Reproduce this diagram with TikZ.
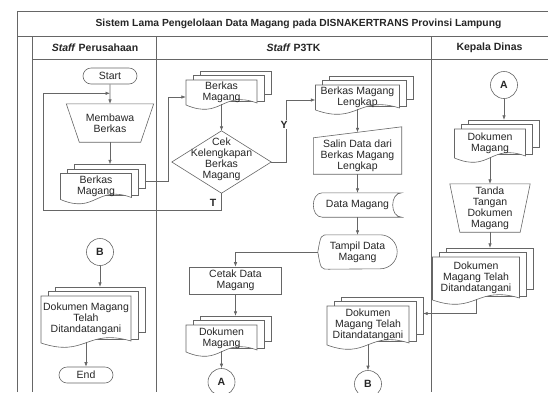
\documentclass[tikz,border=0pt]{standalone}
\usepackage{fontspec}
\setmainfont{Liberation Sans}
\usetikzlibrary{arrows.meta,shapes.misc,positioning}
\colorlet{garis}{black!60}
\newcommand{\isi}{\fontsize{10.5}{11}\selectfont}
\tikzset{
	base/.style = {font=\isi, text=black!85, align=center, inner sep=0},
	blank/.style = {base, rectangle},
	shape line/.style = {draw=garis, line width=0.6pt},
	sheet/.style = {shape line, fill=white},
	lane/.style = {draw=garis, line width=0.6pt},
	flow/.style = {draw=garis, line width=0.6pt, -{Latex[length=4.5pt,width=3.5pt]}},
	terminal/.style = {base, rounded rectangle, shape line, minimum width=54, minimum height=16},
	process/.style = {base, rectangle, shape line, minimum width=92, minimum height=27},
	connector/.style = {base, circle, shape line, minimum size=27, font=\isi\bfseries},
	heading/.style = {base, font=\fontsize{10.3}{12}\selectfont\bfseries},
	lane title/.style = {base, font=\isi\bfseries},
	answer/.style = {base, font=\isi\bfseries, fill=white, inner sep=1pt},
}
% multi document: name, centre, width, height, text
\newcommand{\dokumen}[5]{%
	\begin{scope}[shift={(#2)}]
		\pgfmathsetmacro{\lw}{#3/2}
		\pgfmathsetmacro{\lh}{#4/2}
		\draw[sheet] (-\lw+14,-\lh-9) rectangle (\lw+14,\lh-10);
		\draw[sheet] (-\lw+7,-\lh-4.5) rectangle (\lw+7,\lh-3);
		\draw[sheet] (-\lw,-\lh) -- (\lw,-\lh) -- (\lw,\lh-1)
			.. controls (0,\lh-14) and (0,\lh+16) .. (-\lw,\lh+1) -- cycle;
		\node[blank, minimum width=#3, minimum height=#4] (#1) at (0,0) {#5};
	\end{scope}}

\begin{document}
\begin{tikzpicture}[x=1pt, y=-1pt]
\useasboundingbox (0,0) rectangle (548,392);

% swimlanes
\draw[lane] (17,392) -- (17,11) -- (548,11);
\draw[lane] (17,36) -- (548,36);
\draw[lane] (32,59) -- (548,59);
\foreach \x in {32,156,431}
	\draw[lane] (\x,36) -- (\x,392);
\node[heading] (judul) at (298.5,23.5) {Sistem Lama Pengelolaan Data Magang pada DISNAKERTRANS Provinsi Lampung};
\node[lane title] (perusahaan) at (95,47.5) {\textit{Staff} Perusahaan};
\node[lane title] (p3tk) at (293.5,47.5) {\textit{Staff} P3TK};
\node[lane title] (kepala) at (489.5,47.5) {Kepala Dinas};

% Staff Perusahaan
\node[terminal] (start) at (110,76) {Start};
\node[blank, minimum width=87, minimum height=38] (membawa) at (110,123) {Membawa\\Berkas};
\draw[shape line] (membawa.north west) -- (membawa.north east)
	-- ([xshift=-13]membawa.south east) -- ([xshift=13]membawa.south west) -- cycle;
\dokumen{berkas1}{96,186}{71}{25}{Berkas\\Magang}
\node[connector] (bPeru) at (100,252) {B};
\dokumen{ttd3}{86,319}{90}{46}{Dokumen Magang\\Telah\\Ditandatangani}
\node[terminal] (end) at (86,375) {End};

% Staff P3TK
\dokumen{berkas2}{221.5,92}{71}{24}{Berkas\\Magang}
\node[blank, minimum width=99, minimum height=62] (cek) at (221.5,159) {Cek\\Kelengkapan\\Berkas\\Magang};
\draw[shape line] ([yshift=-3]cek.north) -- ([yshift=-3]cek.east)
	-- ([yshift=-3]cek.south) -- ([yshift=-3]cek.west) -- cycle;
\dokumen{lengkap}{357.5,97}{84}{24}{Berkas Magang\\Lengkap}
\node[blank, minimum width=88, minimum height=36] (salin) at (357.5,156) {Salin Data dari\\Berkas Magang\\Lengkap};
\draw[shape line] (salin.north west) -- ([yshift=11]salin.north east)
	-- (salin.south east) -- (salin.south west) -- cycle;
\node[blank, minimum width=88, minimum height=24] (data) at (357.5,205) {Data Magang};
\draw[shape line] ([xshift=9]data.north west) -- (data.north east)
	.. controls ([xshift=-12]data.north east) and ([xshift=-12]data.south east) .. (data.south east)
	-- ([xshift=9]data.south west)
	.. controls ([xshift=-3]data.south west) and ([xshift=-3]data.north west) .. cycle;
\node[blank, minimum width=79, minimum height=34] (tampil) at (357.5,252) {Tampil Data\\Magang};
\draw[shape line] ([xshift=11]tampil.north west) -- ([xshift=-17]tampil.north east)
	arc[start angle=90, end angle=-90, x radius=17pt, y radius=17pt]
	-- ([xshift=11]tampil.south west)
	.. controls ([xshift=3]tampil.south west) .. (tampil.west)
	.. controls ([xshift=3]tampil.north west) .. cycle;
\node[process] (cetak) at (235.5,280.5) {Cetak Data\\Magang};
\dokumen{dok1}{221.5,338}{71}{26}{Dokumen\\Magang}
\node[connector] (aP3) at (221.5,382) {A};
\dokumen{ttd2}{368,325}{82}{38}{Dokumen\\Magang Telah\\Ditandatangani}
\node[connector] (bP3) at (368,384) {B};

% Kepala Dinas
\node[connector] (aKep) at (504,85) {A};
\dokumen{dok2}{490,143}{71}{28}{Dokumen\\Magang}
\node[blank, minimum width=80, minimum height=48] (tanda) at (490,208) {Tanda\\Tangan\\Dokumen\\Magang};
\draw[shape line] (tanda.north west) -- (tanda.north east)
	-- ([xshift=-10]tanda.south east) -- ([xshift=10]tanda.south west) -- cycle;
\dokumen{ttd1}{476,278}{87}{42}{Dokumen\\Magang Telah\\Ditandatangani}

% alur
\coordinate (balik) at (43,210);
\coordinate (masuk) at ([yshift=-9]start.south);
\draw[flow] (start) -- (membawa);
\draw[flow] (membawa) -- ([xshift=14,yshift=9]berkas1.north);
\draw[flow] ([xshift=13,yshift=5]berkas1.east) -- ++(24,0) |- ([yshift=-5]berkas2.west);
\draw[flow] (berkas2) -- ([yshift=-3]cek.north);
\draw[flow] ([yshift=-3]cek.east) -- ++(15,0) |- node[answer, pos=0.3, xshift=-2pt] {Y} ([yshift=-3]lengkap.west);
\draw[flow] ([yshift=-3]cek.south) -- node[base, font=\isi\bfseries, pos=0.6, left=5pt] {T} (cek.south |- balik)
	-- (balik) |- (masuk);
\draw[flow] (lengkap) -- ([yshift=5.5]salin.north);
\draw[flow] (salin) -- (data);
\draw[flow] (data) -- (tampil);
\draw[flow] (tampil.west) -| (cetak.north);
\draw[flow] (cetak) -- ([xshift=14,yshift=9]dok1.north);
\draw[flow] (dok1) -- (aP3);
\draw[flow] (aKep) -- ([xshift=14,yshift=9]dok2.north);
\draw[flow] (dok2) -- (tanda);
\draw[flow] (tanda) -- ([xshift=14,yshift=9]ttd1.north);
\draw[flow] (ttd1.south) |- ([xshift=14,yshift=11.5]ttd2.east);
\draw[flow] (ttd2) -- (bP3);
\draw[flow] (bPeru) -- ([xshift=14,yshift=9]ttd3.north);
\draw[flow] (ttd3) -- (end);
\end{tikzpicture}
\end{document}
